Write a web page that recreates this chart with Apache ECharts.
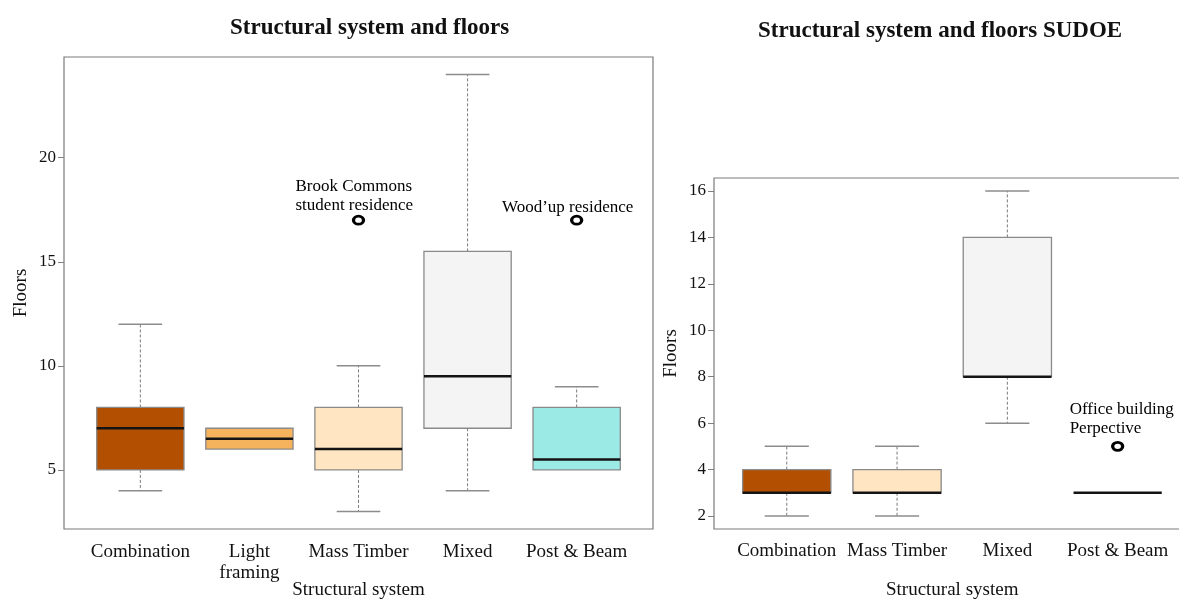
<!DOCTYPE html>
<html><head><meta charset="utf-8">
<script src="https://cdn.jsdelivr.net/npm/echarts@6/dist/echarts.min.js"></script>
<style>html,body{margin:0;padding:0;background:#fff}#c{width:1179px;height:599px}</style>
</head><body><div id="c"></div>
<script>
// ---- Left chart data ----
const leftCategories = ['Combination', 'Light\nframing', 'Mass Timber', 'Mixed', 'Post & Beam'];
const leftMin    = [4, 6, 3, 4, 5];
const leftQ1     = [5, 6, 5, 7, 5];
const leftMedian = [7, 6.5, 6, 9.5, 5.5];
const leftQ3     = [8, 7, 8, 15.5, 8];
const leftMax    = [12, 7, 10, 24, 9];
const leftOutlierCat = [2, 4];
const leftOutlierVal = [17, 17];
const leftOutlierNames = ['Brook Commons\nstudent residence', 'Wood\u2019up residence'];
const leftTicks = [5, 10, 15, 20];

// ---- Right chart data ----
const rightCategories = ['Combination', 'Mass Timber', 'Mixed', 'Post & Beam'];
const rightMin    = [2, 2, 6, 3];
const rightQ1     = [3, 3, 8, 3];
const rightMedian = [3, 3, 8, 3];
const rightQ3     = [4, 4, 14, 3];
const rightMax    = [5, 5, 16, 3];
const rightOutlierCat = [3];
const rightOutlierVal = [5];
const rightOutlierNames = ['Office building\nPerpective'];
const rightTicks = [2, 4, 6, 8, 10, 12, 14, 16];

// ---- styles ----
const leftColors = ['#B24F00', '#F6B35E', '#FFE5C2', '#F4F4F4', '#9CEAE6'];
const rightColors = ['#B24F00', '#FFE5C2', '#F4F4F4', '#FFFFFF'];
const FONT = 'Liberation Serif';
const TXT = '#111';

function boxData(mn, q1, md, q3, mx) {
  return mn.map((v, i) => [i, v, q1[i], md[i], q3[i], mx[i]]);
}
function outlierData(cats, vals, names, labelCfg) {
  return cats.map((c, i) => ({ value: [c, vals[i]], name: names[i], label: labelCfg[i] }));
}

function boxRender(colors) {
  return function (params, api) {
    const i = api.value(0);
    const mn = api.value(1), q1 = api.value(2), md = api.value(3), q3 = api.value(4), mx = api.value(5);
    const bw = api.size([1, 0])[0] * 0.8;
    const x = api.coord([i, md])[0];
    const y = v => api.coord([i, v])[1];
    const whisker = { stroke: '#7a7a7a', lineWidth: 1, lineDash: [3, 2] };
    const cap = { stroke: '#8c8c8c', lineWidth: 1.5 };
    const ch = [];
    if (mx > q3) {
      ch.push({ type: 'line', shape: { x1: x, y1: y(q3), x2: x, y2: y(mx) }, style: whisker });
      ch.push({ type: 'line', shape: { x1: x - bw / 4, y1: y(mx), x2: x + bw / 4, y2: y(mx) }, style: cap });
    }
    if (mn < q1) {
      ch.push({ type: 'line', shape: { x1: x, y1: y(q1), x2: x, y2: y(mn) }, style: whisker });
      ch.push({ type: 'line', shape: { x1: x - bw / 4, y1: y(mn), x2: x + bw / 4, y2: y(mn) }, style: cap });
    }
    if (q3 > q1) {
      ch.push({ type: 'rect', shape: { x: x - bw / 2, y: y(q3), width: bw, height: y(q1) - y(q3) },
        style: { fill: colors[params.dataIndex], stroke: '#8a8a8a', lineWidth: 1.3 } });
    }
    ch.push({ type: 'line', shape: { x1: x - bw / 2, y1: y(md), x2: x + bw / 2, y2: y(md) },
      style: { stroke: '#141414', lineWidth: 2.5 } });
    return { type: 'group', children: ch };
  };
}

const axisLabelStyle = { fontFamily: FONT, fontSize: 19, color: TXT };
const tickStyle = { lineStyle: { color: '#808080', width: 1 } };
const outlierLabel = { show: true, position: 'top', formatter: p => p.name, fontFamily: FONT, fontSize: 17,
  lineHeight: 19, color: '#000', textBorderWidth: 0 };

const chart = echarts.init(document.getElementById('c'), null, { renderer: 'canvas' });
chart.setOption({
  animation: false,
  backgroundColor: '#fff',
  title: [
    { text: 'Structural system and floors', left: 230, top: 17, padding: 0,
      textStyle: { fontFamily: FONT, fontSize: 23, fontWeight: 'bold', color: '#111' } },
    { text: 'Structural system and floors SUDOE', left: 758, top: 20, padding: 0,
      textStyle: { fontFamily: FONT, fontSize: 23, fontWeight: 'bold', color: '#111' } }
  ],
  grid: [
    { left: 85.8, width: 545.4, top: 57, height: 472, outerBoundsMode: 'none', containLabel: false },
    { left: 731.6, width: 441.2, top: 178, height: 351, outerBoundsMode: 'none', containLabel: false }
  ],
  xAxis: [
    { type: 'category', gridIndex: 0, data: leftCategories, boundaryGap: true,
      axisLine: { show: false },
      axisTick: Object.assign({ alignWithLabel: true, length: 6 }, tickStyle),
      axisLabel: Object.assign({ margin: 13, lineHeight: 21, interval: 0 }, axisLabelStyle),
      name: 'Structural system', nameLocation: 'middle', nameGap: 52, nameMoveOverlap: false,
      nameTextStyle: axisLabelStyle },
    { type: 'category', gridIndex: 1, data: rightCategories, boundaryGap: true,
      axisLine: { show: false },
      axisTick: Object.assign({ alignWithLabel: true, length: 6 }, tickStyle),
      axisLabel: Object.assign({ margin: 13, interval: 0 }, axisLabelStyle),
      name: 'Structural system', nameLocation: 'middle', nameGap: 52, nameMoveOverlap: false,
      nameTextStyle: axisLabelStyle }
  ],
  yAxis: [
    { type: 'value', gridIndex: 0, min: 2.16, max: 24.84, offset: 21.8,
      axisLine: { show: false }, splitLine: { show: false },
      axisTick: Object.assign({ show: true, length: 6, customValues: leftTicks }, tickStyle),
      axisLabel: Object.assign({ margin: 8, customValues: leftTicks }, axisLabelStyle, { fontSize: 17 }),
      name: 'Floors', nameLocation: 'middle', nameRotate: 90, nameGap: 33, nameMoveOverlap: false,
      nameTextStyle: axisLabelStyle },
    { type: 'value', gridIndex: 1, min: 1.44, max: 16.56, offset: 17.6,
      axisLine: { show: false }, splitLine: { show: false },
      axisTick: Object.assign({ show: true, length: 6, customValues: rightTicks }, tickStyle),
      axisLabel: Object.assign({ margin: 8, customValues: rightTicks }, axisLabelStyle, { fontSize: 17 }),
      name: 'Floors', nameLocation: 'middle', nameRotate: 90, nameGap: 33, nameMoveOverlap: false,
      nameTextStyle: axisLabelStyle }
  ],
  graphic: [
    { type: 'rect', shape: { x: 64, y: 57, width: 589, height: 472 },
      style: { fill: 'none', stroke: '#7a7a7a', lineWidth: 1.2 }, z: 0 },
    { type: 'rect', shape: { x: 714, y: 178, width: 480, height: 351 },
      style: { fill: 'none', stroke: '#7a7a7a', lineWidth: 1.2 }, z: 0 }
  ],
  series: [
    { type: 'custom', xAxisIndex: 0, yAxisIndex: 0,
      data: boxData(leftMin, leftQ1, leftMedian, leftQ3, leftMax),
      encode: { x: 0, y: [1, 2, 3, 4, 5] }, renderItem: boxRender(leftColors) },
    { type: 'custom', xAxisIndex: 1, yAxisIndex: 1,
      data: boxData(rightMin, rightQ1, rightMedian, rightQ3, rightMax),
      encode: { x: 0, y: [1, 2, 3, 4, 5] }, renderItem: boxRender(rightColors) },
    { type: 'scatter', xAxisIndex: 0, yAxisIndex: 0, symbol: 'circle', symbolSize: [10, 8],
      itemStyle: { color: '#fff', borderColor: '#000', borderWidth: 3, opacity: 1 },
      label: outlierLabel,
      data: outlierData(leftOutlierCat, leftOutlierVal, leftOutlierNames,
        [{ align: 'left', offset: [-63, 5] }, { align: 'center', offset: [-9, 7] }]) },
    { type: 'scatter', xAxisIndex: 1, yAxisIndex: 1, symbol: 'circle', symbolSize: [10, 8],
      itemStyle: { color: '#fff', borderColor: '#000', borderWidth: 3, opacity: 1 },
      label: outlierLabel,
      data: outlierData(rightOutlierCat, rightOutlierVal, rightOutlierNames,
        [{ align: 'left', offset: [-48, 2] }]) }
  ]
});
</script>
</body></html>
